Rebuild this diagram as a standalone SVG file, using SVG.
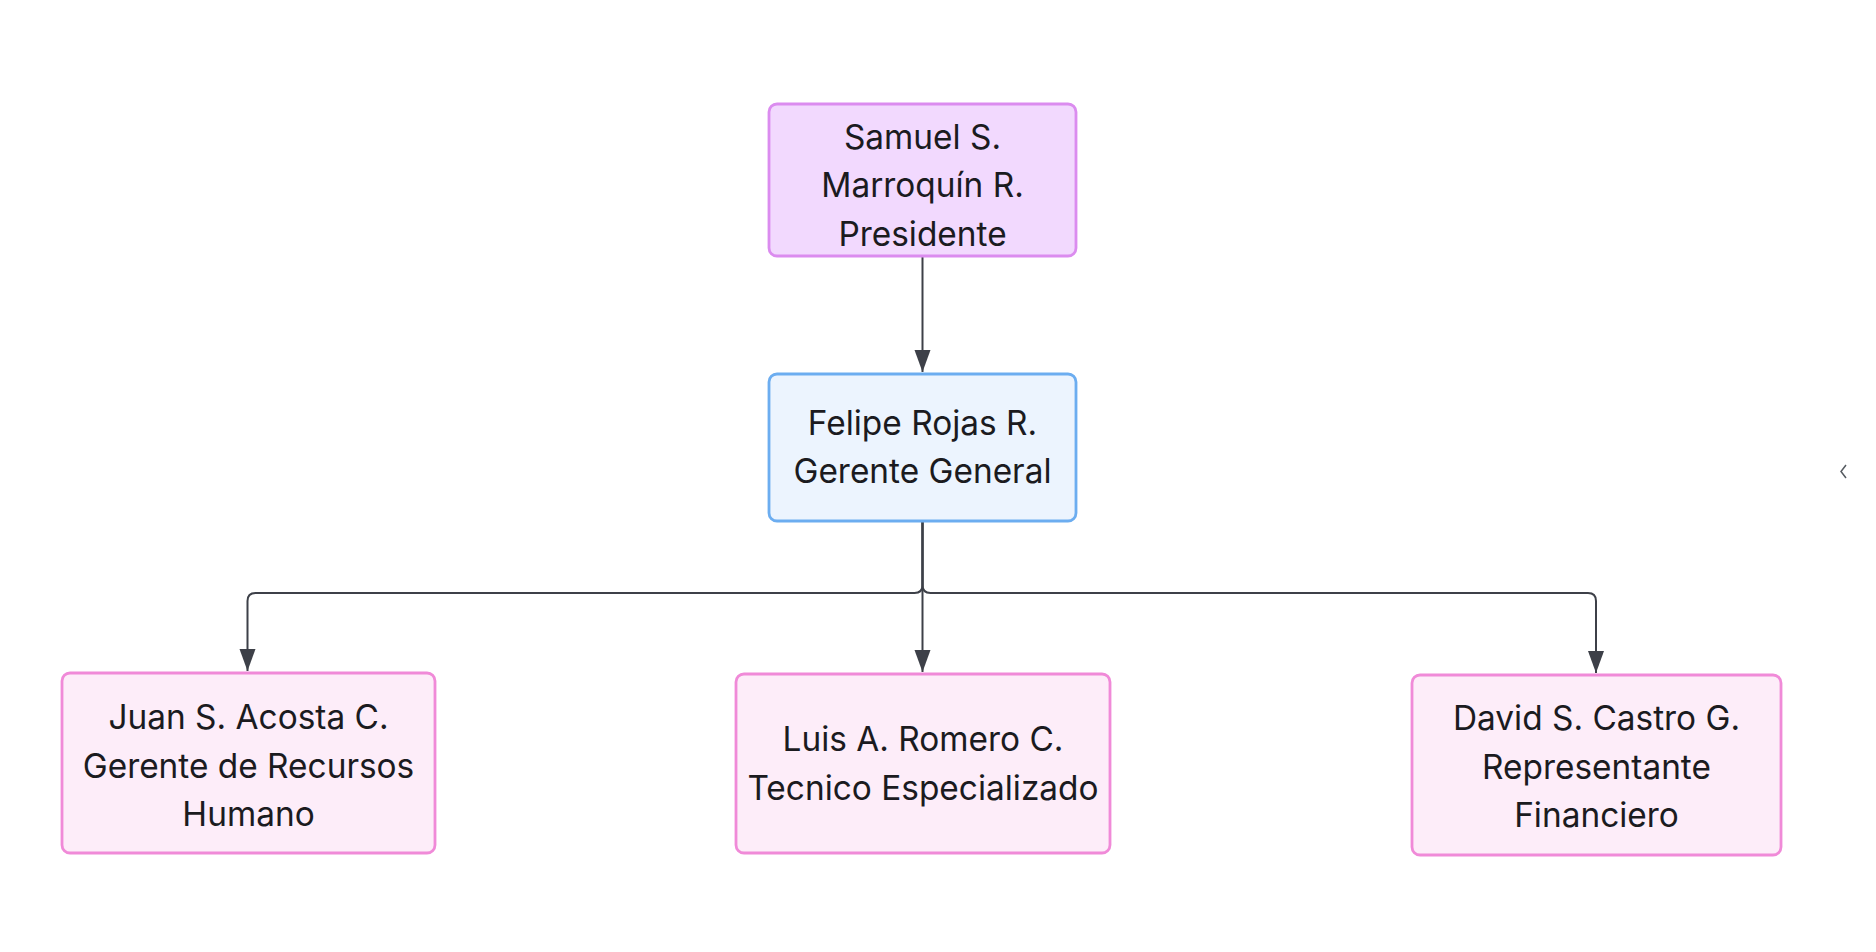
<svg xmlns="http://www.w3.org/2000/svg" width="1876" height="952" viewBox="0 0 1876 952">
<style>
  .lbl { font-family: Inter, "Noto Sans", "Liberation Sans", sans-serif; font-size: 33.4px; fill: #1b1b1f; text-anchor: middle; }
  .box { stroke-width: 2.8; }
  .purple { fill: #f2d9fe; stroke: #db8cef; }
  .blue { fill: #ecf4fe; stroke: #6cadf0; }
  .pink { fill: #fdedf9; stroke: #f08ad8; }
  .edge { fill: none; stroke: #3d4048; stroke-width: 2; }
</style>
<defs>
  <marker id="arrow" markerUnits="userSpaceOnUse" markerWidth="24" markerHeight="18" refX="22" refY="8" orient="auto">
    <path d="M0,0 L22,8 L0,16 z" fill="#3d4048"/>
  </marker>
</defs>
<rect width="1876" height="952" fill="#ffffff"/>
<g id="connectors">
  <path class="edge" d="M922.5,257 L922.5,372" marker-end="url(#arrow)"/>
  <path class="edge" d="M922.5,522 L922.5,585 Q922.5,593 914.5,593 L255.5,593 Q247.5,593 247.5,601 L247.5,671" marker-end="url(#arrow)"/>
  <path class="edge" d="M922.5,522 L922.5,672" marker-end="url(#arrow)"/>
  <path class="edge" d="M922.5,522 L922.5,585 Q922.5,593 930.5,593 L1588,593 Q1596,593 1596,601 L1596,673" marker-end="url(#arrow)"/>
</g>
<g id="node-samuel">
  <rect class="box purple" x="769" y="104" width="307" height="152" rx="8"/>
  <text class="lbl" x="922.5" y="148.5">Samuel S.</text>
  <text class="lbl" x="922.5" y="197">Marroquín R.</text>
  <text class="lbl" x="922.5" y="245.5">Presidente</text>
</g>
<g id="node-felipe">
  <rect class="box blue" x="769" y="374" width="307" height="147" rx="8"/>
  <text class="lbl" x="922.5" y="435">Felipe Rojas R.</text>
  <text class="lbl" x="922.5" y="483">Gerente General</text>
</g>
<g id="node-juan">
  <rect class="box pink" x="62" y="673" width="373" height="180" rx="8"/>
  <text class="lbl" x="248.5" y="729">Juan S. Acosta C.</text>
  <text class="lbl" x="248.5" y="777.5">Gerente de Recursos</text>
  <text class="lbl" x="248.5" y="826">Humano</text>
</g>
<g id="node-luis">
  <rect class="box pink" x="736" y="674" width="374" height="179" rx="8"/>
  <text class="lbl" x="923" y="751">Luis A. Romero C.</text>
  <text class="lbl" x="923" y="799.5">Tecnico Especializado</text>
</g>
<g id="node-david">
  <rect class="box pink" x="1412" y="675" width="369" height="180" rx="8"/>
  <text class="lbl" x="1596.5" y="730">David S. Castro G.</text>
  <text class="lbl" x="1596.5" y="778.5">Representante</text>
  <text class="lbl" x="1596.5" y="827">Financiero</text>
</g>
<polyline points="1846,465 1841,471.5 1846,478" fill="none" stroke="#555a60" stroke-width="1.5"/>
</svg>
